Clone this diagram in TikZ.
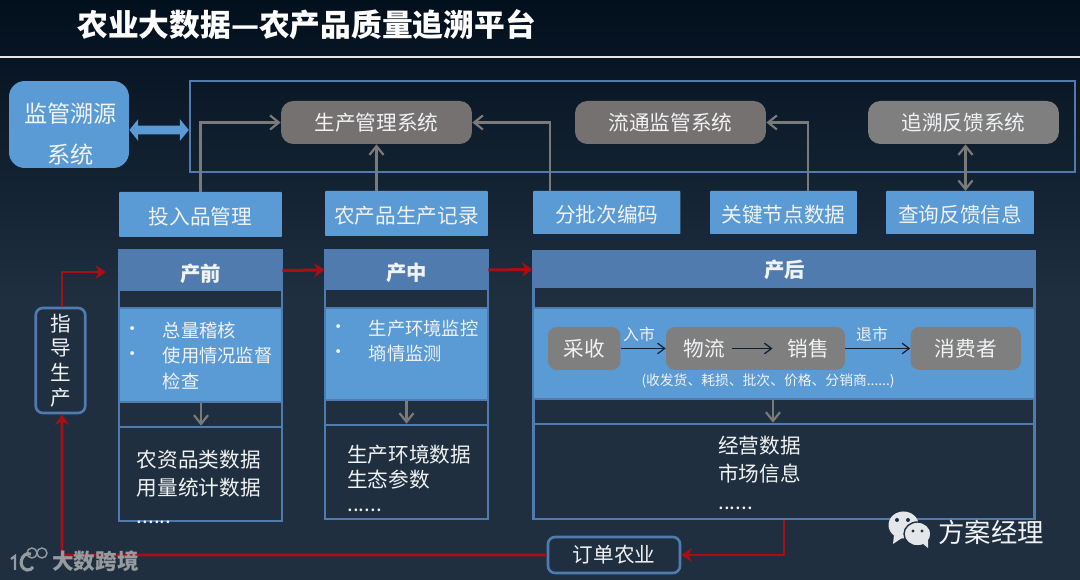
\documentclass[tikz,border=0pt]{standalone}
\usepackage{fontspec}
\setmainfont{Noto Sans CJK SC}
\usepackage{tikz}
\usetikzlibrary{arrows.meta,positioning,calc}
\usepackage{xcolor}
\definecolor{bgtop}{RGB}{2,15,29}
\definecolor{bgbottom}{RGB}{31,47,63}
\definecolor{softblue}{RGB}{91,155,213}
\definecolor{headblue}{RGB}{79,123,174}
\definecolor{sysgrey}{RGB}{118,113,113}
\definecolor{stepgrey}{RGB}{127,127,127}
\definecolor{linegrey}{RGB}{122,122,122}
\definecolor{darkred}{RGB}{168,15,20}
\definecolor{textwhite}{RGB}{240,242,244}
\definecolor{arrowdark}{RGB}{13,31,51}
\definecolor{markgrey}{RGB}{150,155,160}
\definecolor{chatwhite}{RGB}{228,231,234}

\begin{document}
\begin{tikzpicture}[
    x=0.02cm, y=-0.02cm,
    every node/.style={inner sep=0pt, text=textwhite},
    sysbox/.style={rectangle, fill=sysgrey, minimum width=3.82cm, minimum height=0.86cm,
        rounded corners=7pt, font=\fontsize{11.75}{14}\selectfont},
    databox/.style={rectangle, fill=softblue, minimum height=0.86cm, text height=11.5pt, text depth=0pt,
        rounded corners=0.5pt, font=\fontsize{11.75}{14}\selectfont},
    headbox/.style={rectangle, fill=headblue, font=\fontsize{11.6}{14}\selectfont\bfseries},
    framebox/.style={rectangle, draw=headblue, line width=1.5pt},
    innerblue/.style={rectangle, fill=softblue, draw=headblue, line width=0.6pt},
    procbox/.style={rectangle, fill=stepgrey, minimum height=0.86cm, rounded corners=5pt,
        font=\fontsize{11.75}{14}\selectfont},
    outlinebox/.style={rectangle, draw=headblue, line width=1.5pt, rounded corners=4pt},
    bodytext/.style={anchor=west, font=\fontsize{11.75}{14}\selectfont},
    bullettext/.style={anchor=west, font=\fontsize{10.4}{14}\selectfont},
    smalltext/.style={font=\fontsize{9}{11}\selectfont},
    greyarrow/.style={draw=linegrey, line width=1.25pt, -{Straight Barb[length=5pt,width=8pt]}},
    redarrow/.style={draw=darkred, line width=1.7pt, -{Stealth[length=6pt,width=8pt]}},
    darkarrow/.style={draw=arrowdark, line width=0.7pt, -{Straight Barb[length=4pt,width=6pt]}},
    >=Stealth
]
\useasboundingbox (0,0) rectangle (1080,580);
\fill[top color=bgtop, bottom color=bgbottom] (0,0) rectangle (1080,300);
\fill[bgbottom] (0,300) rectangle (1080,580);

\node[anchor=west, font=\fontsize{17.5}{20}\selectfont\bfseries, text=white] (title) at (77,25) {农业大数据—农产品质量追溯平台};
\coordinate (ruleleft) at (0,57);
\coordinate (ruleright) at (1080,57);
\draw[white!90!black, line width=1.2pt] (ruleleft) -- (ruleright);

\node[rectangle, fill=softblue, minimum width=2.4cm, minimum height=1.74cm, rounded corners=9pt] (jianguan) at (69,124.5) {};
\node[align=center, font=\fontsize{13.2}{23.2}\selectfont] (jianguantext) at (70.5,134) {监管溯源\\系统};
\node[framebox, minimum width=17.7cm, minimum height=1.82cm] (platform) at (632.5,126.5) {};
\draw[softblue, line width=5pt, {Triangle[length=5pt,width=12pt]}-{Triangle[length=5pt,width=12pt]}]
    ([yshift=-0.11cm]jianguan.east) -- ([yshift=-0.07cm]platform.west);

\node[sysbox] (shengchan) at (376.5,122.5) {生产管理系统};
\node[sysbox] (liutong) at (670.5,122.5) {流通监管系统};
\node[sysbox, fill=stepgrey] (zhuisu) at (963.5,122.5) {追溯反馈系统};

\node[databox, minimum width=3.26cm, minimum height=0.9cm] (touru) at (200.5,214.5) {投入品管理};
\node[databox, minimum width=3.26cm, minimum height=0.9cm] (jilu) at (406.5,213.5) {农产品生产记录};
\node[databox, minimum width=2.95cm] (fenpi) at (606.75,212.5) {分批次编码};
\node[databox, minimum width=2.94cm] (guanjian) at (783.5,212.5) {关键节点数据};
\node[databox, minimum width=2.96cm] (chaxun) at (960,212.5) {查询反馈信息};

\coordinate (fenpiup) at (550,191);
\coordinate (guanjianup) at (808,191);
\coordinate (chaxunup) at (965.5,191);
\draw[greyarrow] (touru.north) |- (shengchan.west);
\draw[greyarrow] (shengchan.south |- jilu.north) -- (shengchan.south);
\draw[greyarrow] (fenpiup) |- (shengchan.east);
\draw[greyarrow] (guanjianup) |- (liutong.east);
\draw[greyarrow, {Straight Barb[length=5pt,width=8pt]}-{Straight Barb[length=5pt,width=8pt]}] (chaxunup) -- (chaxunup |- zhuisu.south);

% pre-production column
\node[framebox, minimum width=3.26cm, minimum height=5.42cm] (qianframe) at (200.5,385.5) {};
\node[headbox, minimum width=3.26cm, minimum height=0.82cm, text height=12.5pt, text depth=0pt] (chanqian) at (200.5,270.5) {产前};
\node[innerblue, minimum width=3.26cm, minimum height=1.88cm] (qianblue) at (200.5,355) {};
\node[framebox, minimum width=3.26cm, minimum height=1.88cm] (qiandata) at (200.5,474) {};
\node[bullettext] (qianb1) at (123,331) {•};
\node[bullettext] (qianb2) at (123,356) {•};
\node[bullettext] (qiant1) at (162.5,331) {总量稽核};
\node[bullettext] (qiant2) at (162.5,356) {使用情况监督};
\node[bullettext] (qiant3) at (162.5,381) {检查};
\node[bodytext] (qiand1) at (136.5,460) {农资品类数据};
\node[bodytext] (qiand2) at (136.5,488) {用量统计数据};
\node[bodytext] (qiand3) at (136.5,522) {......};
\draw[greyarrow] (qianblue.south -| 201,0) -- (qiandata.north -| 201,0);

% production column
\node[framebox, minimum width=3.26cm, minimum height=5.38cm] (zhongframe) at (406.5,384.5) {};
\node[headbox, minimum width=3.26cm, minimum height=0.8cm, text height=12.5pt, text depth=0pt] (chanzhong) at (406.5,270) {产中};
\node[innerblue, minimum width=3.26cm, minimum height=1.84cm] (zhongblue) at (406.5,354) {};
\node[framebox, minimum width=3.26cm, minimum height=1.88cm] (zhongdata) at (406.5,472) {};
\node[bullettext] (zhongb1) at (329.5,329) {•};
\node[bullettext] (zhongb2) at (329.5,354) {•};
\node[bullettext] (zhongt1) at (368.5,329) {生产环境监控};
\node[bullettext] (zhongt2) at (368.5,354) {墒情监测};
\node[bodytext] (zhongd1) at (347,455) {生产环境数据};
\node[bodytext] (zhongd2) at (347,480) {生态参数};
\node[bodytext] (zhongd3) at (347,510) {......};
\draw[greyarrow] (zhongblue.south) -- (zhongdata.north);

% post-production column
\node[framebox, minimum width=10.02cm, minimum height=5.36cm] (houframe) at (784,385) {};
\node[headbox, minimum width=10.06cm, minimum height=0.76cm] (chanhou) at (784.5,269.5) {产后};
\node[innerblue, minimum width=10.02cm, minimum height=1.82cm] (houblue) at (784,353.5) {};
\node[framebox, minimum width=10.02cm, minimum height=1.9cm] (houdata) at (784,471.5) {};
\node[procbox, minimum width=1.45cm] (caishou) at (584.25,348.5) {采收};
\node[procbox, minimum width=3.58cm] (wuliubox) at (755.5,348.5) {};
\node[font=\fontsize{11.75}{14}\selectfont] (wuliu) at (704,348.5) {物流};
\node[font=\fontsize{11.75}{14}\selectfont] (xiaoshou) at (808,348.5) {销售};
\node[procbox, minimum width=2.21cm] (xiaofei) at (965.75,348.5) {消费者};
\draw[darkarrow] (caishou.east) -- (wuliubox.west);
\draw[darkarrow] ([xshift=0.14cm]wuliu.east) -- ([xshift=-0.29cm]xiaoshou.west);
\draw[darkarrow] (wuliubox.east) -- (xiaofei.west);
\node[smalltext] (rushi) at (639,334) {入市};
\node[smalltext] (tuishi) at (872,334) {退市};
\node[font=\fontsize{7.85}{10}\selectfont] (shouhuo) at (768,381) {(收发货、耗损、批次、价格、分销商......)};
\node[bodytext] (houd1) at (718,446) {经营数据};
\node[bodytext] (houd2) at (718,474) {市场信息};
\node[bodytext] (houd3) at (718,508) {......};
\draw[greyarrow] ([xshift=-0.22cm]houblue.south) -- ([xshift=-0.22cm]houdata.north);

% red loop
\node[outlinebox, minimum width=0.99cm, minimum height=2.1cm, align=center,
    font=\fontsize{11.75}{14}\selectfont] (zhidao) at (60.5,360.5) {指\\导\\生\\产};
\node[outlinebox, minimum width=2.64cm, minimum height=0.72cm,
    font=\fontsize{11.75}{14}\selectfont] (dingdan) at (614,555) {订单农业};
\coordinate (qianhead) at (106,272);
\coordinate (dingdanleft) at (62,555);
\draw[redarrow] ([xshift=0.03cm]zhidao.north) |- (qianhead);
\draw[redarrow] (chanqian.east) -- (chanzhong.west);
\draw[redarrow] (chanzhong.east) -- (chanhou.west);
\draw[redarrow] (houframe.south) |- (dingdan.east);
\draw[redarrow] (dingdan.west) -- (dingdanleft) -- ([xshift=0.03cm]zhidao.south);

% marks in the corners
\node[anchor=west, text=markgrey, font=\fontsize{12.3}{14}\selectfont\bfseries] (dashu) at (52,561) {大数跨境};
\draw[markgrey, line width=1.3pt] (11,559) -- (15,556) -- (15,570);
\draw[markgrey, line width=1.8pt] (31,554) .. controls (21,551) and (17,568) .. (27,570) .. controls (30,570) and (32,569) .. (33,567);
\draw[markgrey, line width=0.8pt] (32,553) circle (5 and 5) (42,553) circle (5 and 5);

\fill[chatwhite] (903.5,525) ellipse (15 and 13.5);
\fill[chatwhite] (894,535) -- (893,544) -- (902,538) -- cycle;
\draw[bgbottom, fill=chatwhite, line width=0.8pt] (917.5,534) ellipse (13.5 and 12);
\fill[chatwhite] (922,543) -- (928,548) -- (928,540) -- cycle;
\fill[bgbottom] (897,520) circle (2 and 2) (908,520) circle (2 and 2) (913,531) circle (1.7 and 1.7) (922,531) circle (1.7 and 1.7);
\node[anchor=west, font=\fontsize{15}{18}\selectfont] (fangan) at (938,532) {方案经理};
\end{tikzpicture}
\end{document}
